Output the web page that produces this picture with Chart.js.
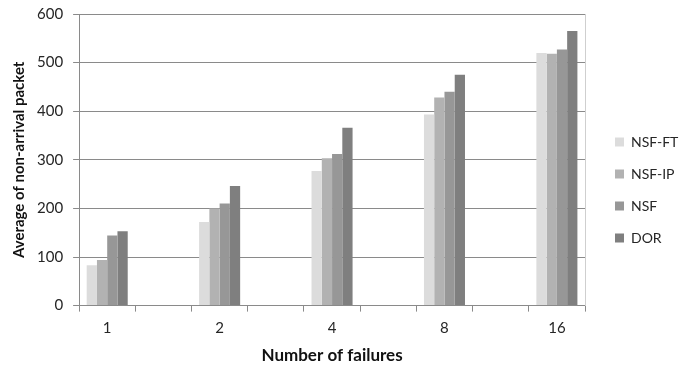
<!DOCTYPE html>
<html>
<head>
<meta charset="utf-8">
<script src="https://cdn.jsdelivr.net/npm/chart.js@4/dist/chart.umd.min.js"></script>
<style>
  html, body { margin: 0; padding: 0; background: #ffffff; }
  #wrap { width: 680px; height: 368px; position: relative; }
</style>
</head>
<body>
<div id="wrap"><canvas id="c"></canvas></div>
<script>
// Failure counts on the x axis; blank slots keep the wide spacing between groups.
const categories = ['1', '', '2', '', '4', '', '8', '', '16'];

// Average number of packets that never arrived, per routing scheme.
const nsfFt = [83, null, 172, null, 277, null, 393, null, 520];
const nsfIp = [94, null, 200, null, 303, null, 428, null, 518];
const nsf   = [144, null, 210, null, 312, null, 440, null, 527];
const dor   = [153, null, 246, null, 366, null, 475, null, 565];

const seriesNames = ['NSF-FT', 'NSF-IP', 'NSF', 'DOR'];
const yTicks = [0, 100, 200, 300, 400, 500, 600];

const FONT = "Lato, 'Open Sans', sans-serif";
const GRID = '#8a8a8a';

// Fixed-width legend column on the right.
const legendWidth = {
  id: 'legendWidth',
  beforeInit(chart) {
    const lg = chart.legend;
    if (!lg) return;
    const fit = lg.fit.bind(lg);
    lg.fit = function () { fit(); this.width = 83; };
  }
};

new Chart(document.getElementById('c'), {
  type: 'bar',
  data: {
    labels: categories,
    datasets: [
      { label: seriesNames[0], data: nsfFt, backgroundColor: '#dcdcdc' },
      { label: seriesNames[1], data: nsfIp, backgroundColor: '#b2b2b2' },
      { label: seriesNames[2], data: nsf,   backgroundColor: '#979797' },
      { label: seriesNames[3], data: dor,   backgroundColor: '#7f7f7f' }
    ]
  },
  plugins: [legendWidth],
  options: {
    responsive: true,
    maintainAspectRatio: false,
    animation: false,
    datasets: { bar: { categoryPercentage: 0.73, barPercentage: 1.0, borderWidth: 0 } },
    layout: { padding: { top: 0, right: 0, bottom: 2, left: 12 } },
    plugins: {
      tooltip: { enabled: false },
      legend: {
        position: 'right',
        align: 'center',
        title: { display: true, text: ' ', font: { size: 8, lineHeight: 1.75 }, padding: 0 },
        labels: {
          boxWidth: 9,
          boxHeight: 9,
          padding: 18,
          color: '#262626',
          font: { family: FONT, size: 14 }
        }
      }
    },
    scales: {
      x: {
        offset: true,
        grid: {
          offset: true,
          drawOnChartArea: false,
          drawTicks: true,
          tickLength: 6,
          color: GRID
        },
        border: { display: true, color: GRID },
        ticks: {
          autoSkip: false,
          maxRotation: 0,
          padding: 8,
          color: '#262626',
          font: { family: FONT, size: 15 }
        },
        title: {
          display: true,
          text: 'Number of failures',
          color: '#111111',
          font: { family: FONT, size: 17, weight: 'bold' },
          padding: { top: 0, bottom: 0 }
        }
      },
      y: {
        min: 0,
        max: 600,
        afterBuildTicks: (scale) => { scale.ticks = yTicks.map(v => ({ value: v })); },
        afterFit: (scale) => { scale.paddingTop = 14; },
        grid: { color: GRID, tickLength: 6 },
        border: { display: true, color: GRID },
        ticks: {
          padding: 10,
          color: '#262626',
          font: { family: FONT, size: 15 }
        },
        title: {
          display: true,
          text: 'Average of non-arrival packet',
          color: '#111111',
          font: { family: FONT, size: 15, weight: 'bold', lineHeight: 1.0 },
          padding: { top: 0, bottom: 0 }
        }
      },
      // right-hand frame edge of the plot area
      frame: {
        position: 'right',
        min: 0,
        max: 600,
        grid: { drawOnChartArea: false, drawTicks: false },
        border: { display: true, color: '#cfcfcf' },
        ticks: { display: false },
        afterFit: (scale) => { scale.width = 12; }
      }
    }
  }
});
</script>
</body>
</html>
